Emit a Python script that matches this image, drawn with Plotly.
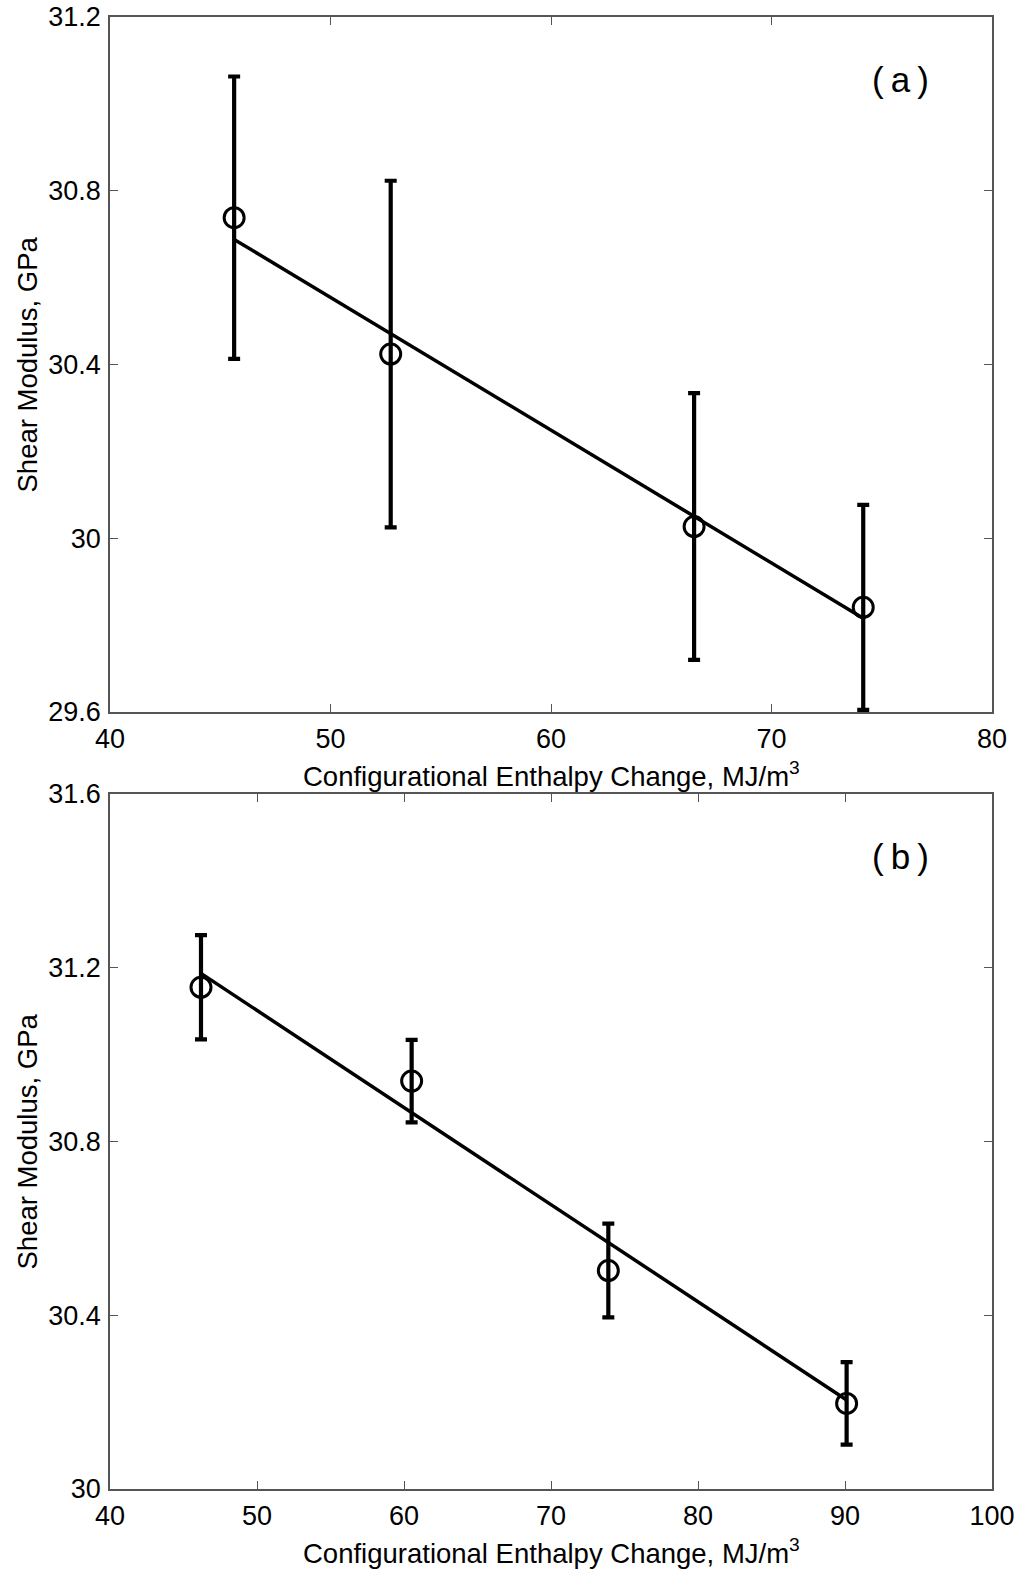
import plotly.graph_objects as go

# Panel (a) data
xa = [45.63, 52.73, 66.49, 74.16]
ya = [30.738, 30.424, 30.027, 29.841]
ea = [0.325, 0.399, 0.307, 0.236]
fit_a_x = [45.63, 74.16]
fit_a_y = [30.688, 29.816]

# Panel (b) data
xb = [46.19, 60.52, 73.90, 90.11]
yb = [31.155, 30.939, 30.503, 30.197]
eb = [0.120, 0.095, 0.108, 0.095]
fit_b_x = [46.19, 90.11]
fit_b_y = [31.187, 30.205]

xa_ticks = [40, 50, 60, 70, 80]
ya_ticks = [29.6, 30.0, 30.4, 30.8, 31.2]
ya_text = ["29.6", "30", "30.4", "30.8", "31.2"]
xb_ticks = [40, 50, 60, 70, 80, 90, 100]
yb_ticks = [30.0, 30.4, 30.8, 31.2, 31.6]
yb_text = ["30", "30.4", "30.8", "31.2", "31.6"]

x_title = "Configurational Enthalpy Change, MJ/m<sup>3</sup>"
y_title = "Shear Modulus, GPa"
labels = ["(\u2009a\u2009)", "(\u2009b\u2009)"]

W, H = 1016, 1571
FONT = "Liberation Sans, Arial, sans-serif"

fig = go.Figure()

def add_panel(x, y, e, fx, fy, xaxis, yaxis):
    fig.add_trace(go.Scatter(x=fx, y=fy, mode="lines",
                             line=dict(color="black", width=3.5),
                             xaxis=xaxis, yaxis=yaxis, showlegend=False))
    fig.add_trace(go.Scatter(x=x, y=y, mode="markers",
                             marker=dict(symbol="circle-open", size=20, color="black",
                                         line=dict(width=3, color="black")),
                             error_y=dict(type="data", array=e, color="black",
                                          thickness=4.2, width=6),
                             xaxis=xaxis, yaxis=yaxis, showlegend=False,
                             cliponaxis=False))

add_panel(xa, ya, ea, fit_a_x, fit_a_y, "x", "y")
add_panel(xb, yb, eb, fit_b_x, fit_b_y, "x2", "y2")

px_l, px_r = 110, 992
a_top, a_bot = 17, 712
b_top, b_bot = 794, 1489

axis_common = dict(showline=True, linecolor="#555555", linewidth=1.5, mirror="ticks",
                   ticks="inside", ticklen=8, tickcolor="#555555", tickwidth=1.2,
                   showgrid=False, zeroline=False, automargin=False,
                   tickfont=dict(family=FONT, size=27, color="black"))

fig.update_layout(
    width=W, height=H, margin=dict(l=0, r=0, t=0, b=0, autoexpand=False),
    paper_bgcolor="white", plot_bgcolor="white",
    font=dict(family=FONT, color="black"),
    xaxis=dict(domain=[px_l / W, px_r / W], range=[40, 80], tickvals=xa_ticks,
               anchor="y", ticklabelstandoff=2, **axis_common),
    yaxis=dict(domain=[1 - a_bot / H, 1 - a_top / H], range=[29.6, 31.2],
               tickvals=ya_ticks, ticktext=ya_text, anchor="x", ticklabelstandoff=2,
               **axis_common),
    xaxis2=dict(domain=[px_l / W, px_r / W], range=[40, 100], tickvals=xb_ticks,
                anchor="y2", ticklabelstandoff=2, **axis_common),
    yaxis2=dict(domain=[1 - b_bot / H, 1 - b_top / H], range=[30.0, 31.6],
                tickvals=yb_ticks, ticktext=yb_text, anchor="x2", ticklabelstandoff=2,
                **axis_common),
)

ann = []
for (top, bot, lab, ly) in [(a_top, a_bot, labels[0], 80), (b_top, b_bot, labels[1], 857)]:
    ann.append(dict(x=551 / W, y=1 - (bot + 62) / H, xref="paper", yref="paper",
                    text=x_title, showarrow=False, xanchor="center", yanchor="middle",
                    font=dict(family=FONT, size=27.5, color="black")))
    ann.append(dict(x=27 / W, y=1 - ((top + bot) / 2) / H, xref="paper", yref="paper",
                    text=y_title, showarrow=False, textangle=-90,
                    xanchor="center", yanchor="middle",
                    font=dict(family=FONT, size=27.5, color="black")))
    ann.append(dict(x=900 / W, y=1 - ly / H, xref="paper", yref="paper",
                    text=lab, showarrow=False, xanchor="center", yanchor="middle",
                    font=dict(family=FONT, size=35, color="black")))
fig.update_layout(annotations=ann)

fig.write_html("out.html")
